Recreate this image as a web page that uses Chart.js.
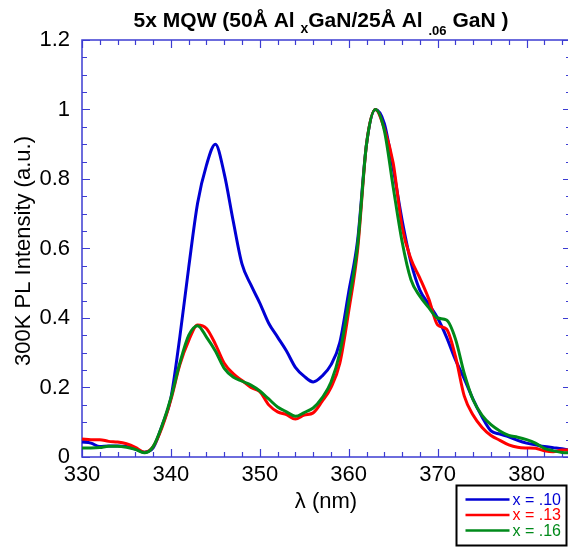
<!DOCTYPE html>
<html>
<head>
<meta charset="utf-8">
<script src="https://cdn.jsdelivr.net/npm/chart.js@4"></script>
<style>
  html, body { margin: 0; padding: 0; background: #fff; overflow: hidden; }
  #wrap { position: relative; width: 568px; height: 548px; overflow: hidden; }
  canvas { display: block; }
</style>
</head>
<body>
<div id="wrap"><canvas id="chart" width="574" height="548"></canvas></div>
<script>
// PL spectra, 5x MQW
const wavelength = [330, 331, 332, 333, 334, 335, 336, 337, 338, 339,
  340, 341, 342, 343, 344, 345, 346, 347, 348, 349,
  350, 351, 352, 353, 354, 355, 356, 357, 358, 359,
  360, 361, 362, 363, 364, 365, 366, 367, 368, 369,
  370, 371, 372, 373, 374, 375, 376, 377, 378, 379,
  380, 381, 382, 383, 384, 385];

const x10 = [0.043, 0.040, 0.030, 0.032, 0.032, 0.030, 0.023, 0.014, 0.026, 0.090,
  0.170, 0.345, 0.545, 0.730, 0.840, 0.900, 0.815, 0.680, 0.555, 0.495,
  0.443, 0.385, 0.345, 0.305, 0.258, 0.232, 0.216, 0.233, 0.265, 0.330,
  0.475, 0.624, 0.900, 1.000, 0.960, 0.830, 0.682, 0.560, 0.480, 0.440,
  0.400, 0.345, 0.280, 0.225, 0.165, 0.115, 0.075, 0.066, 0.058, 0.048,
  0.040, 0.035, 0.030, 0.027, 0.024, 0.018];

const x13 = [0.052, 0.050, 0.050, 0.045, 0.043, 0.038, 0.028, 0.014, 0.030, 0.085,
  0.165, 0.265, 0.335, 0.380, 0.370, 0.325, 0.270, 0.240, 0.220, 0.200,
  0.188, 0.150, 0.130, 0.122, 0.109, 0.121, 0.127, 0.160, 0.200, 0.270,
  0.420, 0.596, 0.900, 1.000, 0.945, 0.846, 0.662, 0.570, 0.515, 0.455,
  0.380, 0.368, 0.290, 0.175, 0.120, 0.085, 0.062, 0.048, 0.035, 0.028,
  0.026, 0.025, 0.018, 0.015, 0.020, 0.020];

const x16 = [0.026, 0.026, 0.027, 0.031, 0.031, 0.028, 0.022, 0.012, 0.030, 0.090,
  0.170, 0.270, 0.350, 0.378, 0.345, 0.305, 0.255, 0.230, 0.218, 0.207,
  0.190, 0.167, 0.144, 0.130, 0.117, 0.128, 0.141, 0.170, 0.215, 0.300,
  0.445, 0.610, 0.900, 1.000, 0.940, 0.777, 0.620, 0.510, 0.463, 0.430,
  0.400, 0.394, 0.340, 0.240, 0.164, 0.120, 0.093, 0.075, 0.062, 0.057,
  0.050, 0.040, 0.025, 0.018, 0.013, 0.012];

const seriesNames = ['x = .10', 'x = .13', 'x = .16'];
const seriesColors = ['#0000d4', '#ff0000', '#008a1a'];

const xRange = [330, 385];
const yRange = [0, 1.2];
const xTickLabels = [330, 340, 350, 360, 370, 380];
const xMinorStep = 2, xMajorStep = 10;
const yMajorStep = 0.2, yMinorStep = 0.05;

const AXIS_BLUE = '#3c3cd2';
const FONT = '"Liberation Sans", Arial, Helvetica, sans-serif';

function toPoints(ys) {
  return wavelength.map((w, i) => ({ x: w, y: ys[i] }));
}

// axis frame with inward ticks on all four sides
const axisFrame = {
  id: 'axisFrame',
  beforeDatasetsDraw(chart) {
    const { ctx, chartArea: a, scales: { x, y } } = chart;
    ctx.save();
    ctx.strokeStyle = AXIS_BLUE;
    ctx.lineWidth = 1.5;
    ctx.strokeRect(a.left, a.top, a.right - a.left, a.bottom - a.top);
    ctx.lineWidth = 1.2;
    ctx.beginPath();
    const nx = Math.round((xRange[1] - xRange[0]) / xMinorStep);
    for (let i = 0; i <= nx; i++) {
      const v = xRange[0] + i * xMinorStep;
      const px = Math.round(x.getPixelForValue(v)) + 0.5;
      const len = (Math.abs(v % xMajorStep) < 1e-6) ? 8 : 5;
      ctx.moveTo(px, a.bottom); ctx.lineTo(px, a.bottom - len);
      ctx.moveTo(px, a.top); ctx.lineTo(px, a.top + len);
    }
    const ny = Math.round((yRange[1] - yRange[0]) / yMinorStep);
    for (let i = 0; i <= ny; i++) {
      const v = yRange[0] + i * yMinorStep;
      const py = Math.round(y.getPixelForValue(v)) + 0.5;
      const len = (i % Math.round(yMajorStep / yMinorStep) === 0) ? 8 : 5;
      ctx.moveTo(a.left, py); ctx.lineTo(a.left + len, py);
      ctx.moveTo(a.right, py); ctx.lineTo(a.right - len, py);
    }
    ctx.stroke();
    ctx.restore();
  },
  afterDraw(chart) {
    const { ctx } = chart;
    ctx.save();
    ctx.fillStyle = '#000';

    // title with subscripts
    const parts = [
      { t: '5x MQW (50Å Al ', size: 21, dy: 0 },
      { t: 'x', size: 14, dy: 6 },
      { t: 'GaN/25Å Al ', size: 21, dy: 0 },
      { t: '.06', size: 13, dy: 8 },
      { t: ' GaN )', size: 21, dy: 0 }
    ];
    let total = 0;
    parts.forEach(p => { ctx.font = 'bold ' + p.size + 'px ' + FONT; p.w = ctx.measureText(p.t).width; total += p.w; });
    let tx = 321 - total / 2;
    ctx.textBaseline = 'alphabetic';
    ctx.textAlign = 'left';
    parts.forEach(p => {
      ctx.font = 'bold ' + p.size + 'px ' + FONT;
      ctx.fillText(p.t, tx, 27 + p.dy);
      tx += p.w;
    });

    // axis titles
    ctx.font = '22px ' + FONT;
    ctx.textAlign = 'center';
    ctx.textBaseline = 'middle';
    ctx.fillText('λ (nm)', 326, 502);
    ctx.save();
    ctx.translate(24, 251);
    ctx.rotate(-Math.PI / 2);
    ctx.fillText('300K PL Intensity (a.u.)', 0, 0);
    ctx.restore();

    // legend box
    const bx = 456.5, by = 485.5, bw = 110, bh = 60;
    ctx.strokeStyle = '#000';
    ctx.lineWidth = 2;
    ctx.strokeRect(bx, by, bw, bh);
    ctx.font = '16px ' + FONT;
    ctx.textAlign = 'left';
    ctx.textBaseline = 'middle';
    seriesNames.forEach((name, i) => {
      const ly = by + 14 + i * 15.5;
      ctx.strokeStyle = seriesColors[i];
      ctx.lineWidth = 2.5;
      ctx.beginPath();
      ctx.moveTo(bx + 9, ly); ctx.lineTo(bx + 53, ly);
      ctx.stroke();
      ctx.fillStyle = seriesColors[i];
      ctx.fillText(name, bx + 56, ly + 1);
    });
    ctx.restore();
  }
};

const datasets = [x10, x13, x16].map((ys, i) => ({
  label: seriesNames[i],
  data: toPoints(ys),
  borderColor: seriesColors[i],
  borderWidth: 3,
  pointRadius: 0,
  cubicInterpolationMode: 'monotone',
  order: 3 - i,
  clip: 4
}));

new Chart(document.getElementById('chart'), {
  type: 'line',
  data: { datasets },
  options: {
    responsive: false,
    animation: false,
    devicePixelRatio: 1,
    layout: { padding: { top: 40, right: 3, bottom: 0, left: 0 } },
    plugins: { legend: { display: false }, tooltip: { enabled: false } },
    scales: {
      x: {
        type: 'linear',
        min: xRange[0],
        max: xRange[1],
        afterBuildTicks: s => { s.ticks = xTickLabels.map(v => ({ value: v })); },
        afterFit: s => { s.height = 91; s.paddingRight = 0; s.paddingLeft = 0; },
        grid: { display: false, drawTicks: false },
        border: { display: false },
        ticks: {
          padding: 5,
          color: '#000',
          font: { family: FONT, size: 22 },
          maxRotation: 0,
          autoSkip: false
        }
      },
      y: {
        min: yRange[0],
        max: yRange[1],
        afterFit: s => { s.width = 82; s.paddingTop = 0; s.paddingBottom = 0; },
        grid: { display: false, drawTicks: false },
        border: { display: false },
        ticks: {
          stepSize: yMajorStep,
          padding: 12,
          color: '#000',
          font: { family: FONT, size: 22 },
          callback: v => String(Number(v.toFixed(2)))
        }
      }
    }
  },
  plugins: [axisFrame]
});
</script>
</body>
</html>
